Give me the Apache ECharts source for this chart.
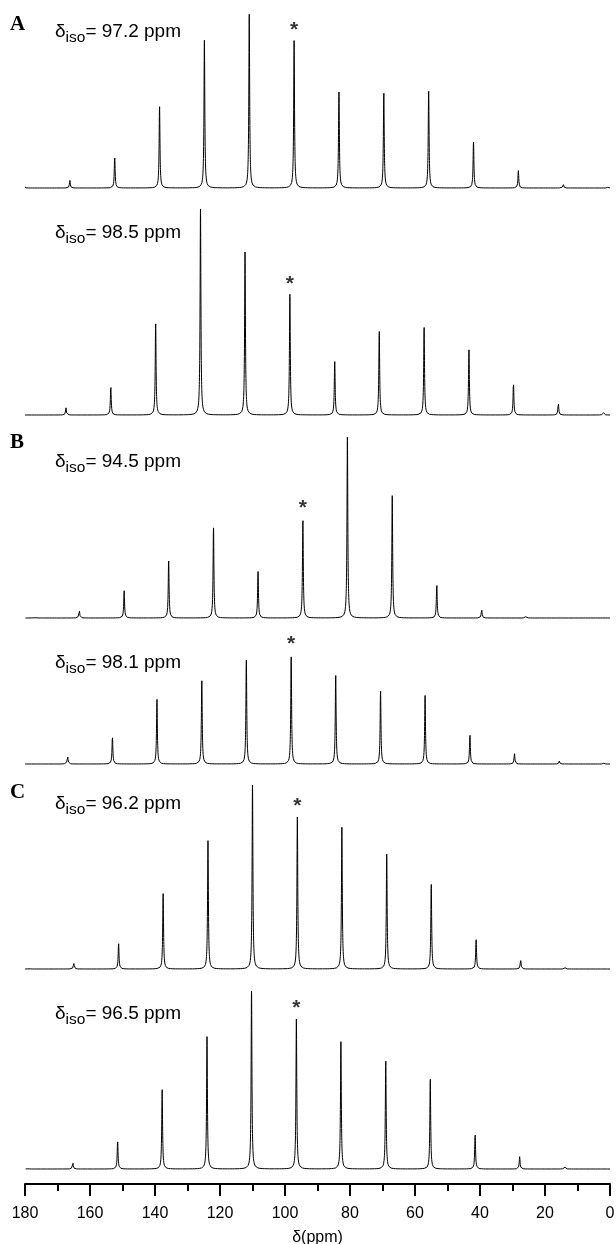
<!DOCTYPE html>
<html>
<head>
<meta charset="utf-8">
<script src="https://cdn.jsdelivr.net/npm/echarts@6/dist/echarts.min.js"></script>
<style>
  html, body { margin: 0; padding: 0; background: #fff; }
  #chart { width: 616px; height: 1244px; }
</style>
</head>
<body>
<div id="chart"></div>
<script>
// Isotropic shifts (ppm) of the six simulated spectra, top to bottom
const isoShifts = [97.2, 98.5, 94.5, 98.1, 96.2, 96.5];
const panelLetters = ['A', '', 'B', '', 'C', ''];

// Centre band + spinning sidebands: positions (ppm) and intensities (a.u.)
const pos1 = [180.0, 166.2, 152.4, 138.6, 124.8, 111.0, 97.2, 83.4, 69.6, 55.8, 42.0, 28.2, 14.4, 0.6];
const int1 = [1.0, 7.7, 32, 82.7, 147.7, 173.7, 147.4, 97.7, 96.4, 98.4, 46.7, 17.7, 4.7, 1.2];

const pos2 = [167.4, 153.6, 139.8, 126.0, 112.3, 98.5, 84.7, 71.0, 57.2, 43.4, 29.7, 15.9, 2.1];
const int2 = [7.3, 29.3, 92.7, 206, 163, 120.7, 54.3, 85, 89, 66.3, 32.3, 12.3, 4];

const pos3 = [177.0, 163.3, 149.5, 135.8, 122.0, 108.3, 94.5, 80.8, 67.0, 53.3, 39.5, 25.8];
const int3 = [1.7, 8.7, 27.7, 58, 91.7, 47.3, 99, 180.7, 122.3, 34.7, 9, 2];

const pos4 = [166.9, 153.1, 139.4, 125.6, 111.9, 98.1, 84.4, 70.6, 56.9, 43.1, 29.4, 15.6, 1.9];
const int4 = [9, 28, 65.7, 84.7, 105.7, 109, 90, 74, 69.7, 30.7, 11, 3, 0.8];

const pos5 = [178.7, 165.0, 151.2, 137.5, 123.7, 110.0, 96.2, 82.5, 68.7, 55.0, 41.2, 27.5, 13.7];
const int5 = [1, 6.3, 25.7, 76.7, 128.3, 184, 152, 141.7, 114.7, 86, 31.3, 9.7, 2];

const pos6 = [179.0, 165.3, 151.5, 137.8, 124.0, 110.3, 96.5, 82.8, 69.0, 55.3, 41.5, 27.8, 14.0];
const int6 = [1, 7.3, 29, 80.7, 132.3, 178, 150, 127.3, 109.7, 91.3, 36.3, 12.3, 3.3];

// Shift axis
const xMin = 0, xMax = 180, xInterval = 20;
const xTickLabels = [0, 20, 40, 60, 80, 100, 120, 140, 160, 180];

const peakPos = [pos1, pos2, pos3, pos4, pos5, pos6];
const peakInt = [int1, int2, int3, int4, int5, int6];

// Lorentzian half width at half maximum (ppm)
const HWHM = 0.15;

// Sum of Lorentzian lines for one spectrum, sampled on the shift axis
function spectrum(pos, amp) {
  const xs = new Set();
  for (let x = xMin; x <= xMax + 1e-9; x += 0.25) xs.add(+x.toFixed(3));
  pos.forEach(p => {
    for (let d = -3; d <= 3 + 1e-9; d += 0.02) {
      const x = +(p + d).toFixed(3);
      if (x >= xMin && x <= xMax) xs.add(x);
    }
    xs.add(p);
  });
  const g2 = HWHM * HWHM;
  return [...xs].sort((a, b) => a - b).map(x => {
    let y = 0;
    for (let i = 0; i < pos.length; i++) y += amp[i] * g2 / ((x - pos[i]) * (x - pos[i]) + g2);
    return [x, y];
  });
}

const FONT = '"Liberation Sans", Arial, sans-serif';
const baselines = [188, 415, 618, 764, 969, 1169];
const labelY = [32, 233, 462, 663, 804, 1014];
const letterY = [25, 443, 793];
const PANEL = 150;     // grid height (px) = y range (a.u.), one unit per pixel
const AXIS_PAD = 15;   // gap between bottom trace and the shift axis

const grids = [], xAxes = [], yAxes = [], series = [], graphics = [];

baselines.forEach((b, i) => {
  const last = i === baselines.length - 1;
  grids.push({
    left: 25, right: 6, top: b - PANEL, height: PANEL + (last ? AXIS_PAD : 0),
    containLabel: false, outerBoundsMode: 'none'
  });
  xAxes.push({
    gridIndex: i, type: 'value', min: xMin, max: xMax, interval: xInterval, inverse: true,
    show: last,
    axisLine: { show: true, onZero: false, lineStyle: { color: '#000', width: 2 } },
    axisTick: { show: true, length: 12, lineStyle: { color: '#000', width: 2 } },
    minorTick: { show: true, splitNumber: 2, length: 7, lineStyle: { color: '#000', width: 2 } },
    splitLine: { show: false },
    axisLabel: {
      margin: 22, color: '#000', fontSize: 16, fontFamily: FONT,
      formatter: v => (xTickLabels.indexOf(v) >= 0 ? String(v) : '')
    },
    name: 'δ(ppm)', nameLocation: 'middle', nameGap: 46,
    nameTextStyle: { color: '#000', fontSize: 16, fontFamily: FONT }
  });
  yAxes.push({
    gridIndex: i, type: 'value', show: false,
    min: last ? -AXIS_PAD : 0, max: PANEL, splitLine: { show: false }
  });

  series.push({
    type: 'line', xAxisIndex: i, yAxisIndex: i,
    data: spectrum(peakPos[i], peakInt[i]),
    showSymbol: false, symbol: 'none', clip: false, silent: true,
    lineStyle: { color: '#000', width: 1 }
  });

  // Asterisk over the isotropic (centre) band
  const k = peakPos[i].indexOf(isoShifts[i]);
  series.push({
    type: 'scatter', xAxisIndex: i, yAxisIndex: i, clip: false, silent: true,
    symbolSize: 0,
    data: [[peakPos[i][k], peakInt[i][k]]],
    label: {
      show: true, position: 'top', distance: 0, formatter: '*',
      color: '#000', fontSize: 21, fontFamily: FONT, fontWeight: 'bold'
    }
  });

  graphics.push({
    type: 'text', silent: true,
    style: {
      x: 55, y: labelY[i], verticalAlign: 'middle', align: 'left',
      text: '{d|δ}{s|iso}{n|= ' + isoShifts[i].toFixed(1) + ' ppm}',
      rich: {
        d: { fontSize: 19, fontFamily: FONT, fill: '#000', lineHeight: 27, verticalAlign: 'middle' },
        s: { fontSize: 15.5, fontFamily: FONT, fill: '#000', lineHeight: 15, verticalAlign: 'bottom' },
        n: { fontSize: 19, fontFamily: FONT, fill: '#000', lineHeight: 27, verticalAlign: 'middle' }
      }
    }
  });
});

panelLetters.filter(t => t).forEach((t, j) => {
  graphics.push({
    type: 'text', silent: true,
    style: {
      x: 10, y: letterY[j], verticalAlign: 'middle', align: 'left', text: t,
      font: 'bold 21px "Liberation Serif", "Times New Roman", serif', fill: '#000'
    }
  });
});

const chart = echarts.init(document.getElementById('chart'), null, { renderer: 'canvas' });
chart.setOption({
  animation: false,
  backgroundColor: '#fff',
  grid: grids, xAxis: xAxes, yAxis: yAxes, series: series, graphic: graphics
});
</script>
</body>
</html>
